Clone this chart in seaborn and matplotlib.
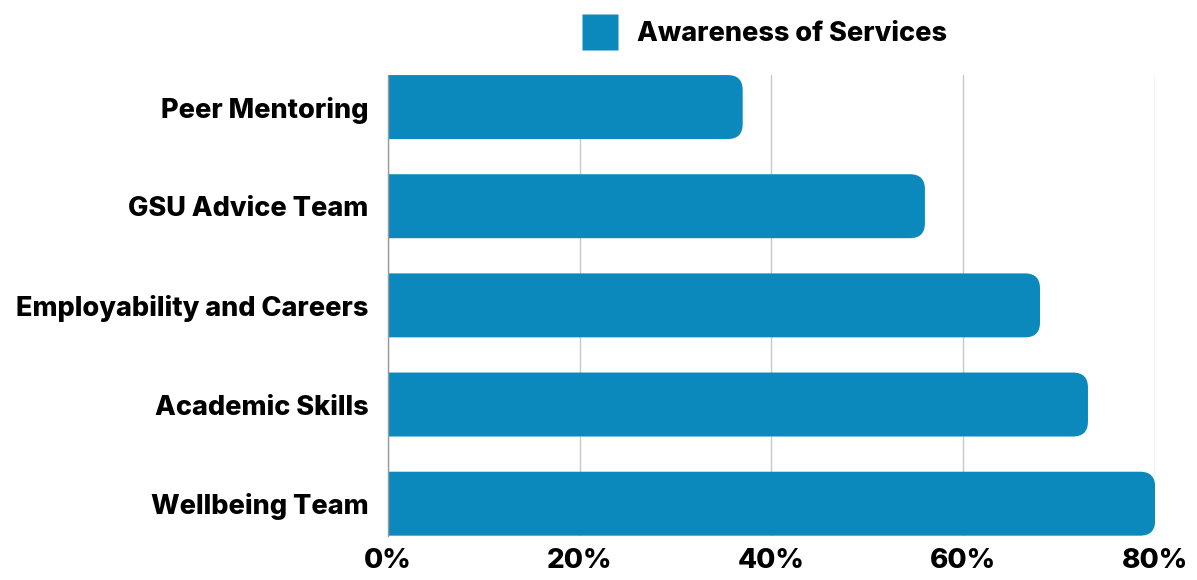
import pandas as pd
import seaborn as sns
import matplotlib.pyplot as plt
from matplotlib.patches import FancyBboxPatch
from matplotlib.lines import Line2D
from matplotlib.ticker import PercentFormatter

services = ['Peer Mentoring', 'GSU Advice Team', 'Employability and Careers',
            'Academic Skills', 'Wellbeing Team']
awareness = [37, 56, 68, 73, 80]
ticks = [0, 20, 40, 60, 80]
series_name = 'Awareness of Services'
bar_color = '#0b89bd'

df = pd.DataFrame({'service': services, 'awareness': awareness})

sns.set_theme(style='white')
plt.rcParams['font.family'] = ['Inter', 'DejaVu Sans']

fig = plt.figure(figsize=(11.97, 5.8), dpi=100)
ax = fig.add_axes([0.324, 0.076, 0.641, 0.795])

sns.barplot(data=df, x='awareness', y='service', color=bar_color,
            saturation=1, width=0.645, ax=ax, zorder=3)

ax.set_xlim(0, 80)
ax.set_ylim(len(services) - 1 + 0.325, -0.325)
ax.set_xticks(ticks)
ax.xaxis.set_major_formatter(PercentFormatter(decimals=0))
ax.set_xlabel('')
ax.set_ylabel('')

# rounded right-hand ends on the bars
fig.canvas.draw()
px_x = ax.transData.transform((1, 0))[0] - ax.transData.transform((0, 0))[0]
px_y = abs(ax.transData.transform((0, 1))[1] - ax.transData.transform((0, 0))[1])
radius_px = 15
r = radius_px / px_x
aspect = px_x / px_y
for p in list(ax.patches):
    x0, y0, w, h = p.get_x(), p.get_y(), p.get_width(), p.get_height()
    p.set_visible(False)
    rb = FancyBboxPatch((x0 - 3 * r, y0), w + 3 * r, h,
                        boxstyle=f'round,pad=0,rounding_size={r}',
                        mutation_aspect=aspect, facecolor=bar_color,
                        edgecolor='none', zorder=3, clip_on=True)
    ax.add_patch(rb)

ax.grid(axis='x', color='#c8c8c8', linewidth=1, zorder=0)
ax.grid(axis='y', visible=False)
for s in ['top', 'right', 'bottom']:
    ax.spines[s].set_visible(False)
ax.spines['left'].set_color('#999999')
ax.spines['left'].set_linewidth(1)
ax.spines['left'].set_zorder(4)

ax.tick_params(axis='y', length=0, pad=14, labelsize=19.5)
ax.tick_params(axis='x', length=0, pad=9, labelsize=20)
for lab in ax.get_yticklabels() + ax.get_xticklabels():
    lab.set_fontweight('heavy')
    lab.set_color('black')

handle = Line2D([], [], marker='s', linestyle='none', markersize=26,
                markerfacecolor=bar_color, markeredgecolor='none')
leg = fig.legend([handle], [series_name], loc='upper center',
                 bbox_to_anchor=(0.635, 1.005), frameon=False,
                 prop={'weight': 'heavy', 'size': 19.5}, handletextpad=0.35)
for t in leg.get_texts():
    t.set_color('black')

fig.savefig('out.png', dpi=100)
